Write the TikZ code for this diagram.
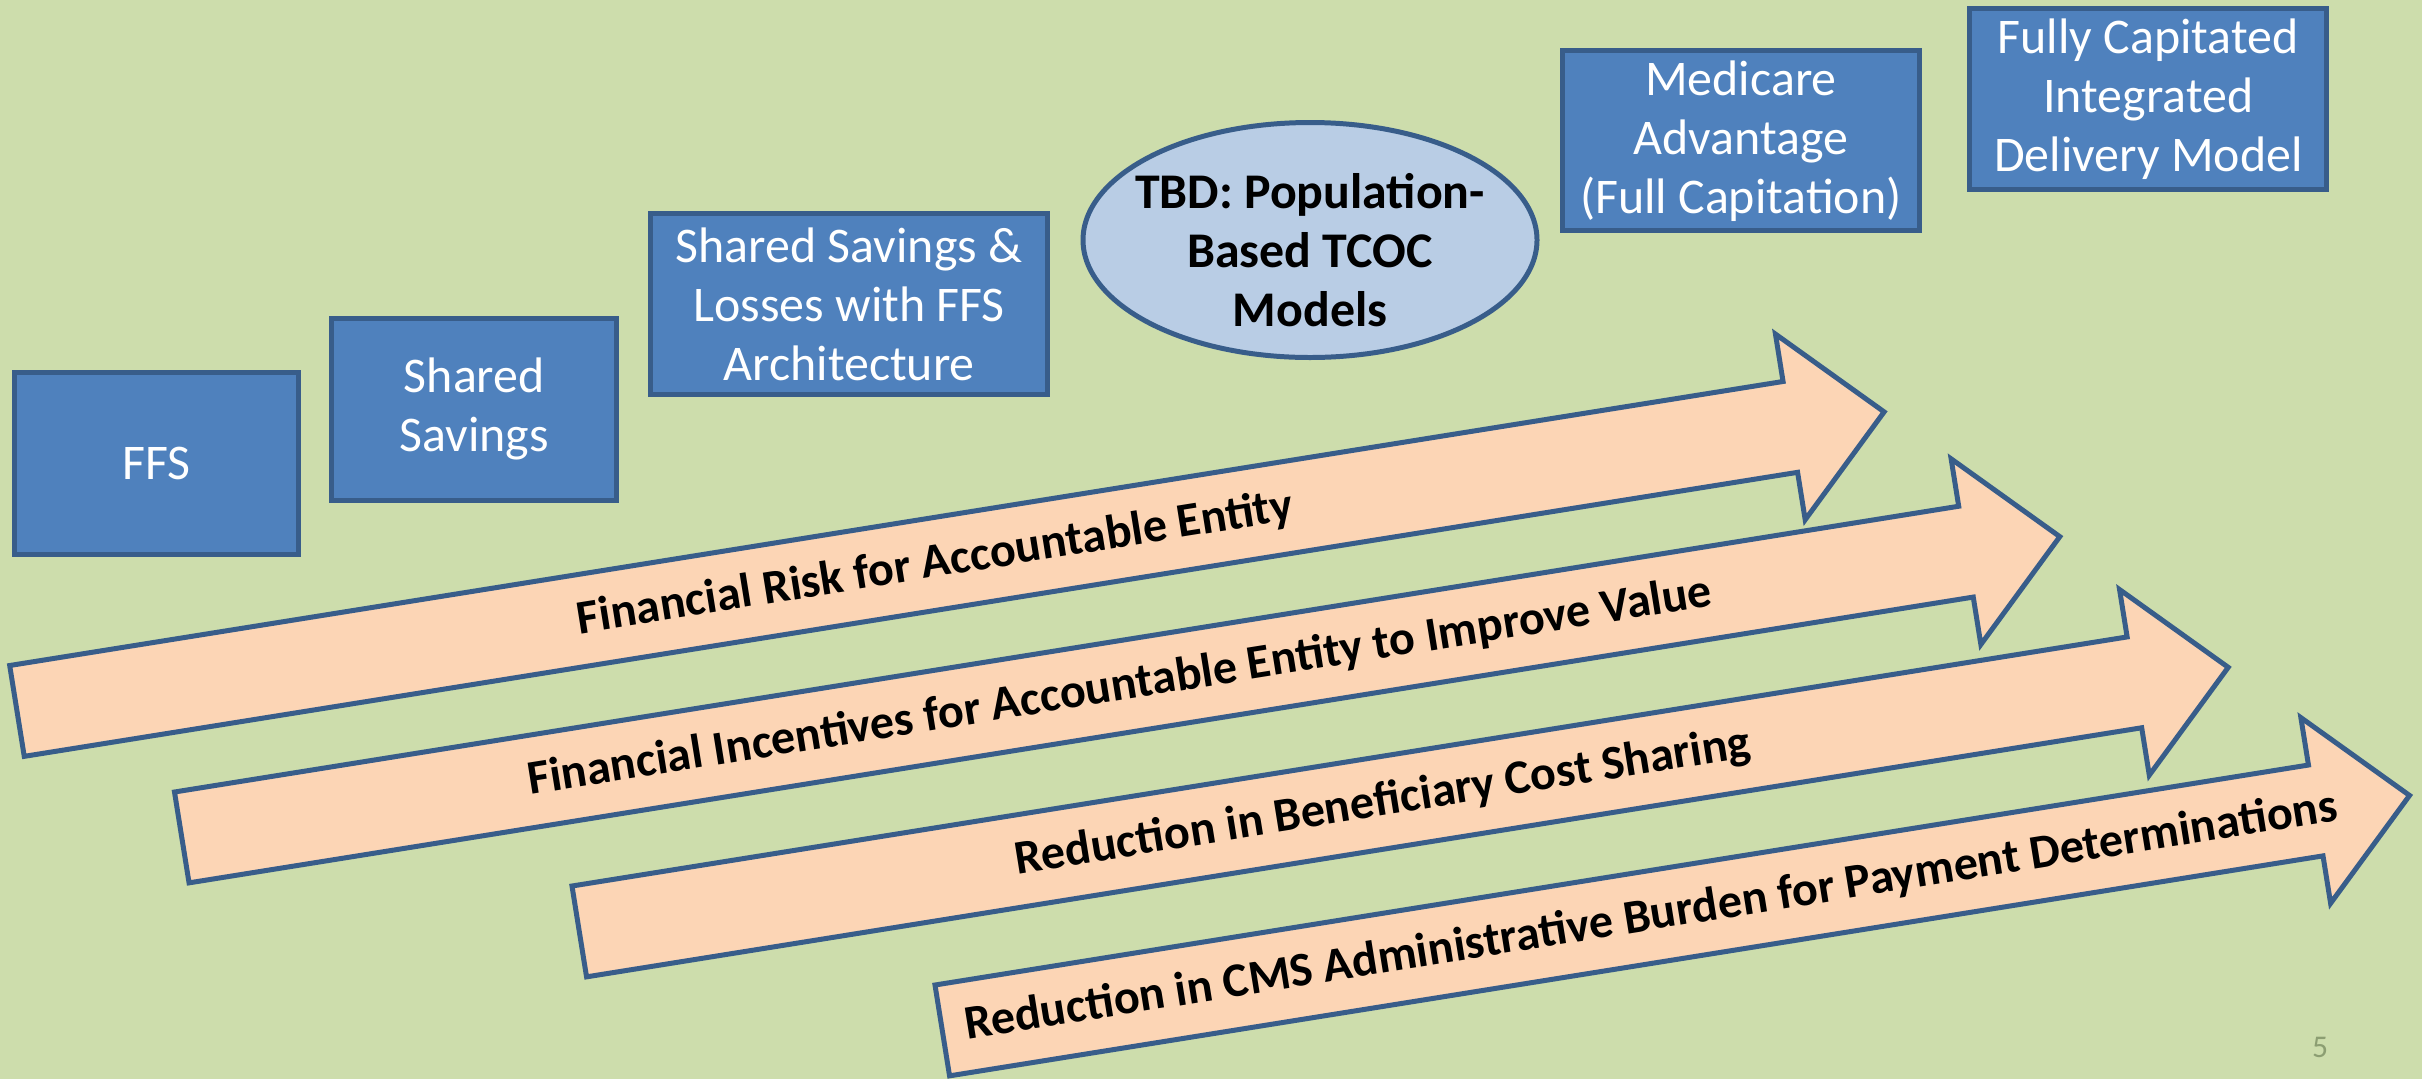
\documentclass[tikz,border=0pt]{standalone}
\usepackage{fontspec}
\setmainfont{Carlito}
\usetikzlibrary{shapes.geometric}
\definecolor{bggreen}{HTML}{CDDDAC}
\definecolor{boxblue}{HTML}{4F81BD}
\definecolor{edgeblue}{HTML}{385D8A}
\definecolor{ovalblue}{HTML}{B9CDE5}
\definecolor{arrowpeach}{HTML}{FCD5B5}
\definecolor{pagegray}{HTML}{8C9E72}

\begin{document}
\begin{tikzpicture}[y=-1cm,
	model/.style={draw=edgeblue, fill=boxblue, line width=1.42pt, text=white, align=center, inner sep=0pt, font=\fontsize{14.2}{16.8}\selectfont},
	tbdoval/.style={ellipse, draw=edgeblue, fill=ovalblue, line width=1.42pt, inner sep=0pt},
	riskarrow/.style={draw=edgeblue, fill=arrowpeach, line width=1.42pt},
	arrowlabel/.style={font=\bfseries\fontsize{13.7}{16.5}\selectfont, inner sep=0pt, rotate=9.1}]
				%Fons
				\fill[bggreen] (0,0) rectangle (24.22,10.79);
				\useasboundingbox (0,0) rectangle (24.22,10.79);
				%Models
				\node[model, minimum width=2.84cm, minimum height=1.82cm] (ffs) at (1.565,4.635) {FFS};
				\node[model, minimum width=2.85cm, minimum height=1.82cm] (shared) at (4.744,4.09) {Shared\\Savings};
				\node[model, minimum width=3.97cm, minimum height=1.81cm] (losses) at (8.492,3.042) {Shared Savings \&\\Losses with FFS\\Architecture};
				\node[tbdoval, minimum width=4.54cm, minimum height=2.35cm] (tbd) at (13.1,2.4) {};
				\node[align=center, font=\bfseries\fontsize{14.2}{16.8}\selectfont] (tbdtext) at (13.1,2.5) {TBD: Population-\\Based TCOC\\Models};
				\node[model, minimum width=3.57cm, minimum height=1.80cm] (ma) at (17.409,1.408) {Medicare\\Advantage\\(Full Capitation)};
				\node[model, minimum width=3.57cm, minimum height=1.81cm] (fullcap) at (21.483,0.989) {Fully Capitated\\Integrated\\Delivery Model};
				%Fletxes
				\begin{scope}[shift={(0.097,6.655)}, rotate=9.1]
				\draw[riskarrow] (0,0) -- (17.96,0) -- (17.96,-0.48) -- (18.91,0.46) -- (17.96,1.40) -- (17.96,0.92) -- (0,0.92) -- cycle;
				\node[arrowlabel] (risk) at (9.30,0.46) {Financial Risk for Accountable Entity};
				\end{scope}
				\begin{scope}[shift={(1.745,7.92)}, rotate=9.1]
				\draw[riskarrow] (0,0) -- (18.07,0) -- (18.07,-0.48) -- (19.02,0.46) -- (18.07,1.40) -- (18.07,0.92) -- (0,0.92) -- cycle;
				\node[arrowlabel] (incent) at (9.50,0.46) {Financial Incentives for Accountable Entity to Improve Value};
				\end{scope}
				\begin{scope}[shift={(5.72,8.86)}, rotate=9.1]
				\draw[riskarrow] (0,0) -- (15.75,0) -- (15.75,-0.48) -- (16.70,0.46) -- (15.75,1.40) -- (15.75,0.92) -- (0,0.92) -- cycle;
				\node[arrowlabel] (costshare) at (8.14,0.46) {Reduction in Beneficiary Cost Sharing};
				\end{scope}
				\begin{scope}[shift={(9.35,9.85)}, rotate=9.1]
				\draw[riskarrow] (0,0) -- (13.91,0) -- (13.91,-0.48) -- (14.86,0.46) -- (13.91,1.40) -- (13.91,0.92) -- (0,0.92) -- cycle;
				\node[arrowlabel] (admin) at (7.18,0.46) {Reduction in CMS Administrative Burden for Payment Determinations};
				\end{scope}
				%Pagina
				\node[text=pagegray, font=\fontsize{9}{11}\selectfont] (pagenum) at (23.2,10.47) {5};
\end{tikzpicture}
\end{document}
